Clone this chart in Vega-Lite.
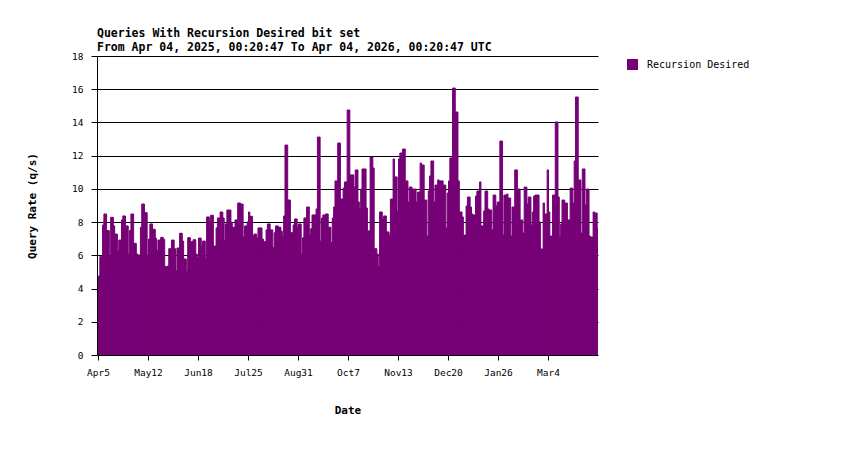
{
  "$schema": "https://vega.github.io/schema/vega-lite/v6.json",
  "width": 501,
  "height": 299,
  "autosize": {"type": "none"},
  "padding": {"left": 97, "top": 56, "right": 252, "bottom": 95},
  "background": "white",
  "config": {"view": {"stroke": null}, "font": "DejaVu Sans Mono"},
  "title": {
    "text": "Queries With Recursion Desired bit set",
    "subtitle": "From Apr 04, 2025, 00:20:47 To Apr 04, 2026, 00:20:47 UTC",
    "anchor": "start",
    "frame": "group",
    "font": "DejaVu Sans Mono",
    "fontSize": 11.5,
    "fontWeight": "bold",
    "color": "#000000",
    "subtitleFont": "DejaVu Sans Mono",
    "subtitleFontSize": 11.5,
    "subtitleFontWeight": "bold",
    "subtitleColor": "#000000",
    "offset": -2,
    "subtitlePadding": 2
  },
  "data": {"name": "rd"},
  "datasets": {
    "rd": [
      {"day":"2025-04-05","rate":4.76},{"day":"2025-04-06","rate":5.92},{"day":"2025-04-07","rate":5.92},{"day":"2025-04-08","rate":7.83},{"day":"2025-04-09","rate":8.49},{"day":"2025-04-10","rate":8.49},{"day":"2025-04-11","rate":7.49},{"day":"2025-04-12","rate":7.49},{"day":"2025-04-13","rate":5.92},{"day":"2025-04-14","rate":8.29},{"day":"2025-04-15","rate":8.29},{"day":"2025-04-16","rate":7.77},{"day":"2025-04-17","rate":7.28},{"day":"2025-04-18","rate":7.28},{"day":"2025-04-19","rate":6.26},{"day":"2025-04-20","rate":6.92},{"day":"2025-04-21","rate":6.92},{"day":"2025-04-22","rate":8.13},{"day":"2025-04-23","rate":8.37},{"day":"2025-04-24","rate":8.37},{"day":"2025-04-25","rate":7.77},{"day":"2025-04-26","rate":7.77},{"day":"2025-04-27","rate":6.06},{"day":"2025-04-28","rate":7.49},{"day":"2025-04-29","rate":8.49},{"day":"2025-04-30","rate":8.49},
      {"day":"2025-05-01","rate":6.72},{"day":"2025-05-02","rate":6.72},{"day":"2025-05-03","rate":6.08},{"day":"2025-05-04","rate":6.02},{"day":"2025-05-05","rate":6.02},{"day":"2025-05-06","rate":7.69},{"day":"2025-05-07","rate":9.09},{"day":"2025-05-08","rate":9.09},{"day":"2025-05-09","rate":8.57},{"day":"2025-05-10","rate":8.57},{"day":"2025-05-11","rate":6.02},{"day":"2025-05-12","rate":6.98},{"day":"2025-05-13","rate":7.89},{"day":"2025-05-14","rate":7.89},{"day":"2025-05-15","rate":7.57},{"day":"2025-05-16","rate":7.57},{"day":"2025-05-17","rate":7.02},{"day":"2025-05-18","rate":6.3},{"day":"2025-05-19","rate":6.92},{"day":"2025-05-20","rate":6.92},{"day":"2025-05-21","rate":7.08},{"day":"2025-05-22","rate":7.08},{"day":"2025-05-23","rate":6.96},{"day":"2025-05-24","rate":5.32},{"day":"2025-05-25","rate":5.32},{"day":"2025-05-26","rate":5.36},{"day":"2025-05-27","rate":6.4},{"day":"2025-05-28","rate":6.4},{"day":"2025-05-29","rate":6.92},{"day":"2025-05-30","rate":6.92},{"day":"2025-05-31","rate":6.4},
      {"day":"2025-06-01","rate":5.06},{"day":"2025-06-02","rate":6.44},{"day":"2025-06-03","rate":6.44},{"day":"2025-06-04","rate":7.33},{"day":"2025-06-05","rate":7.33},{"day":"2025-06-06","rate":6.86},{"day":"2025-06-07","rate":5.78},{"day":"2025-06-08","rate":5.78},{"day":"2025-06-09","rate":5.02},{"day":"2025-06-10","rate":7.06},{"day":"2025-06-11","rate":7.06},{"day":"2025-06-12","rate":6.82},{"day":"2025-06-13","rate":6.82},{"day":"2025-06-14","rate":6.94},{"day":"2025-06-15","rate":6.94},{"day":"2025-06-16","rate":6.08},{"day":"2025-06-17","rate":5.88},{"day":"2025-06-18","rate":7.04},{"day":"2025-06-19","rate":7.04},{"day":"2025-06-20","rate":6.56},{"day":"2025-06-21","rate":6.86},{"day":"2025-06-22","rate":6.86},{"day":"2025-06-23","rate":5.84},{"day":"2025-06-24","rate":8.31},{"day":"2025-06-25","rate":8.31},{"day":"2025-06-26","rate":8.05},{"day":"2025-06-27","rate":8.41},{"day":"2025-06-28","rate":8.41},{"day":"2025-06-29","rate":6.56},{"day":"2025-06-30","rate":6.56},
      {"day":"2025-07-01","rate":7.65},{"day":"2025-07-02","rate":8.25},{"day":"2025-07-03","rate":8.25},{"day":"2025-07-04","rate":8.61},{"day":"2025-07-05","rate":8.61},{"day":"2025-07-06","rate":8.25},{"day":"2025-07-07","rate":6.92},{"day":"2025-07-08","rate":7.89},{"day":"2025-07-09","rate":8.73},{"day":"2025-07-10","rate":8.73},{"day":"2025-07-11","rate":8.73},{"day":"2025-07-12","rate":7.99},{"day":"2025-07-13","rate":7.69},{"day":"2025-07-14","rate":7.69},{"day":"2025-07-15","rate":8.13},{"day":"2025-07-16","rate":8.13},{"day":"2025-07-17","rate":9.15},{"day":"2025-07-18","rate":9.15},{"day":"2025-07-19","rate":9.09},{"day":"2025-07-20","rate":9.09},{"day":"2025-07-21","rate":7.1},{"day":"2025-07-22","rate":7.77},{"day":"2025-07-23","rate":7.77},{"day":"2025-07-24","rate":8.01},{"day":"2025-07-25","rate":8.61},{"day":"2025-07-26","rate":8.35},{"day":"2025-07-27","rate":8.35},{"day":"2025-07-28","rate":7.16},{"day":"2025-07-29","rate":7.28},{"day":"2025-07-30","rate":7.28},{"day":"2025-07-31","rate":7.04},
      {"day":"2025-08-01","rate":7.65},{"day":"2025-08-02","rate":7.65},{"day":"2025-08-03","rate":7.65},{"day":"2025-08-04","rate":6.98},{"day":"2025-08-05","rate":6.82},{"day":"2025-08-06","rate":6.82},{"day":"2025-08-07","rate":7.53},{"day":"2025-08-08","rate":7.89},{"day":"2025-08-09","rate":7.89},{"day":"2025-08-10","rate":7.53},{"day":"2025-08-11","rate":7.53},{"day":"2025-08-12","rate":6.46},{"day":"2025-08-13","rate":7.36},{"day":"2025-08-14","rate":7.77},{"day":"2025-08-15","rate":7.77},{"day":"2025-08-16","rate":7.69},{"day":"2025-08-17","rate":7.69},{"day":"2025-08-18","rate":7.45},{"day":"2025-08-19","rate":7.12},{"day":"2025-08-20","rate":8.37},{"day":"2025-08-21","rate":12.64},{"day":"2025-08-22","rate":12.64},{"day":"2025-08-23","rate":9.33},{"day":"2025-08-24","rate":9.33},{"day":"2025-08-25","rate":7.36},{"day":"2025-08-26","rate":7.36},{"day":"2025-08-27","rate":7.83},{"day":"2025-08-28","rate":8.19},{"day":"2025-08-29","rate":8.19},{"day":"2025-08-30","rate":7.69},{"day":"2025-08-31","rate":7.89},
      {"day":"2025-09-01","rate":7.89},{"day":"2025-09-02","rate":6.08},{"day":"2025-09-03","rate":7.06},{"day":"2025-09-04","rate":8.25},{"day":"2025-09-05","rate":8.25},{"day":"2025-09-06","rate":8.91},{"day":"2025-09-07","rate":8.91},{"day":"2025-09-08","rate":7.22},{"day":"2025-09-09","rate":7.6},{"day":"2025-09-10","rate":8.43},{"day":"2025-09-11","rate":8.43},{"day":"2025-09-12","rate":8.43},{"day":"2025-09-13","rate":8.79},{"day":"2025-09-14","rate":13.12},{"day":"2025-09-15","rate":13.12},{"day":"2025-09-16","rate":6.86},{"day":"2025-09-17","rate":8.25},{"day":"2025-09-18","rate":8.43},{"day":"2025-09-19","rate":8.43},{"day":"2025-09-20","rate":8.49},{"day":"2025-09-21","rate":8.49},{"day":"2025-09-22","rate":7.69},{"day":"2025-09-23","rate":7.69},{"day":"2025-09-24","rate":6.76},{"day":"2025-09-25","rate":8.25},{"day":"2025-09-26","rate":8.91},{"day":"2025-09-27","rate":10.48},{"day":"2025-09-28","rate":10.48},{"day":"2025-09-29","rate":12.76},{"day":"2025-09-30","rate":12.76},
      {"day":"2025-10-01","rate":9.39},{"day":"2025-10-02","rate":9.39},{"day":"2025-10-03","rate":10.05},{"day":"2025-10-04","rate":10.42},{"day":"2025-10-05","rate":10.42},{"day":"2025-10-06","rate":14.75},{"day":"2025-10-07","rate":14.75},{"day":"2025-10-08","rate":10.84},{"day":"2025-10-09","rate":10.84},{"day":"2025-10-10","rate":10.84},{"day":"2025-10-11","rate":10.11},{"day":"2025-10-12","rate":11.14},{"day":"2025-10-13","rate":11.14},{"day":"2025-10-14","rate":9.21},{"day":"2025-10-15","rate":8.79},{"day":"2025-10-16","rate":9.99},{"day":"2025-10-17","rate":11.2},{"day":"2025-10-18","rate":11.2},{"day":"2025-10-19","rate":11.2},{"day":"2025-10-20","rate":8.85},{"day":"2025-10-21","rate":7.47},{"day":"2025-10-22","rate":7.47},{"day":"2025-10-23","rate":11.92},{"day":"2025-10-24","rate":11.92},{"day":"2025-10-25","rate":11.26},{"day":"2025-10-26","rate":6.4},{"day":"2025-10-27","rate":6.4},{"day":"2025-10-28","rate":6.08},{"day":"2025-10-29","rate":5.32},{"day":"2025-10-30","rate":8.61},{"day":"2025-10-31","rate":8.61},
      {"day":"2025-11-01","rate":8.19},{"day":"2025-11-02","rate":8.37},{"day":"2025-11-03","rate":8.37},{"day":"2025-11-04","rate":7.41},{"day":"2025-11-05","rate":7.41},{"day":"2025-11-06","rate":7.22},{"day":"2025-11-07","rate":9.39},{"day":"2025-11-08","rate":9.39},{"day":"2025-11-09","rate":11.8},{"day":"2025-11-10","rate":10.72},{"day":"2025-11-11","rate":10.72},{"day":"2025-11-12","rate":8.67},{"day":"2025-11-13","rate":11.8},{"day":"2025-11-14","rate":12.16},{"day":"2025-11-15","rate":12.16},{"day":"2025-11-16","rate":12.4},{"day":"2025-11-17","rate":12.4},{"day":"2025-11-18","rate":10.48},{"day":"2025-11-19","rate":10.48},{"day":"2025-11-20","rate":9.21},{"day":"2025-11-21","rate":10.11},{"day":"2025-11-22","rate":10.11},{"day":"2025-11-23","rate":9.99},{"day":"2025-11-24","rate":9.99},{"day":"2025-11-25","rate":9.99},{"day":"2025-11-26","rate":9.21},{"day":"2025-11-27","rate":9.81},{"day":"2025-11-28","rate":9.81},{"day":"2025-11-29","rate":11.56},{"day":"2025-11-30","rate":11.44},
      {"day":"2025-12-01","rate":11.44},{"day":"2025-12-02","rate":9.33},{"day":"2025-12-03","rate":9.33},{"day":"2025-12-04","rate":7.16},{"day":"2025-12-05","rate":9.87},{"day":"2025-12-06","rate":10.78},{"day":"2025-12-07","rate":11.68},{"day":"2025-12-08","rate":11.68},{"day":"2025-12-09","rate":9.21},{"day":"2025-12-10","rate":10.23},{"day":"2025-12-11","rate":10.23},{"day":"2025-12-12","rate":10.54},{"day":"2025-12-13","rate":10.48},{"day":"2025-12-14","rate":10.48},{"day":"2025-12-15","rate":10.48},{"day":"2025-12-16","rate":10.23},{"day":"2025-12-17","rate":10.23},{"day":"2025-12-18","rate":7.65},{"day":"2025-12-19","rate":9.75},{"day":"2025-12-20","rate":10.48},{"day":"2025-12-21","rate":11.86},{"day":"2025-12-22","rate":11.86},{"day":"2025-12-23","rate":16.07},{"day":"2025-12-24","rate":16.07},{"day":"2025-12-25","rate":14.63},{"day":"2025-12-26","rate":14.63},{"day":"2025-12-27","rate":10.48},{"day":"2025-12-28","rate":8.61},{"day":"2025-12-29","rate":8.61},{"day":"2025-12-30","rate":8.31},{"day":"2025-12-31","rate":7.22},
      {"day":"2026-01-01","rate":7.22},{"day":"2026-01-02","rate":8.97},{"day":"2026-01-03","rate":9.51},{"day":"2026-01-04","rate":9.51},{"day":"2026-01-05","rate":8.91},{"day":"2026-01-06","rate":8.49},{"day":"2026-01-07","rate":8.43},{"day":"2026-01-08","rate":8.43},{"day":"2026-01-09","rate":9.57},{"day":"2026-01-10","rate":9.87},{"day":"2026-01-11","rate":9.87},{"day":"2026-01-12","rate":10.42},{"day":"2026-01-13","rate":7.77},{"day":"2026-01-14","rate":7.77},{"day":"2026-01-15","rate":8.67},{"day":"2026-01-16","rate":9.87},{"day":"2026-01-17","rate":9.87},{"day":"2026-01-18","rate":8.79},{"day":"2026-01-19","rate":8.73},{"day":"2026-01-20","rate":8.73},{"day":"2026-01-21","rate":7.53},{"day":"2026-01-22","rate":9.63},{"day":"2026-01-23","rate":9.63},{"day":"2026-01-24","rate":8.97},{"day":"2026-01-25","rate":9.21},{"day":"2026-01-26","rate":9.21},{"day":"2026-01-27","rate":12.88},{"day":"2026-01-28","rate":12.88},{"day":"2026-01-29","rate":7.22},{"day":"2026-01-30","rate":9.63},{"day":"2026-01-31","rate":9.63},
      {"day":"2026-02-01","rate":9.69},{"day":"2026-02-02","rate":9.45},{"day":"2026-02-03","rate":9.45},{"day":"2026-02-04","rate":7.16},{"day":"2026-02-05","rate":8.91},{"day":"2026-02-06","rate":8.91},{"day":"2026-02-07","rate":11.14},{"day":"2026-02-08","rate":11.14},{"day":"2026-02-09","rate":9.99},{"day":"2026-02-10","rate":9.99},{"day":"2026-02-11","rate":8.13},{"day":"2026-02-12","rate":8.13},{"day":"2026-02-13","rate":7.34},{"day":"2026-02-14","rate":10.11},{"day":"2026-02-15","rate":10.11},{"day":"2026-02-16","rate":9.09},{"day":"2026-02-17","rate":9.51},{"day":"2026-02-18","rate":9.51},{"day":"2026-02-19","rate":7.83},{"day":"2026-02-20","rate":8.61},{"day":"2026-02-21","rate":9.57},{"day":"2026-02-22","rate":9.63},{"day":"2026-02-23","rate":9.63},{"day":"2026-02-24","rate":9.63},{"day":"2026-02-25","rate":8.01},{"day":"2026-02-26","rate":6.38},{"day":"2026-02-27","rate":6.38},{"day":"2026-02-28","rate":9.15},
      {"day":"2026-03-01","rate":8.49},{"day":"2026-03-02","rate":8.49},{"day":"2026-03-03","rate":11.14},{"day":"2026-03-04","rate":8.61},{"day":"2026-03-05","rate":7.16},{"day":"2026-03-06","rate":7.16},{"day":"2026-03-07","rate":9.63},{"day":"2026-03-08","rate":9.63},{"day":"2026-03-09","rate":14.03},{"day":"2026-03-10","rate":14.03},{"day":"2026-03-11","rate":9.51},{"day":"2026-03-12","rate":7.1},{"day":"2026-03-13","rate":7.89},{"day":"2026-03-14","rate":9.33},{"day":"2026-03-15","rate":9.33},{"day":"2026-03-16","rate":9.15},{"day":"2026-03-17","rate":9.15},{"day":"2026-03-18","rate":8.13},{"day":"2026-03-19","rate":8.13},{"day":"2026-03-20","rate":10.05},{"day":"2026-03-21","rate":10.05},{"day":"2026-03-22","rate":9.15},{"day":"2026-03-23","rate":11.68},{"day":"2026-03-24","rate":15.53},{"day":"2026-03-25","rate":15.53},{"day":"2026-03-26","rate":10.54},{"day":"2026-03-27","rate":10.54},{"day":"2026-03-28","rate":7.34},{"day":"2026-03-29","rate":11.2},{"day":"2026-03-30","rate":11.2},{"day":"2026-03-31","rate":9.03},
      {"day":"2026-04-01","rate":9.99},{"day":"2026-04-02","rate":9.99},{"day":"2026-04-03","rate":7.16},{"day":"2026-04-04","rate":7.1},{"day":"2026-04-05","rate":7.1},{"day":"2026-04-06","rate":8.61},{"day":"2026-04-07","rate":8.55},{"day":"2026-04-08","rate":8.55},{"day":"2026-04-09","rate":7.65}
    ]
  },
  "mark": {
    "type": "bar",
    "clip": true,
    "binSpacing": 0,
    "stroke": "#760076",
    "strokeWidth": 1,
    "strokeOpacity": 1,
    "fillOpacity": 1
  },
  "encoding": {
    "x": {
      "field": "day",
      "type": "temporal",
      "timeUnit": "utcyearmonthdate",
      "title": "Date",
      "scale": {
        "type": "utc",
        "nice": false,
        "domain": [
          {"year": 2025, "month": 4, "date": 4, "hours": 6, "minutes": 14, "utc": true},
          {"year": 2026, "month": 4, "date": 10, "utc": true}
        ]
      },
      "axis": {
        "values": [
          {"year": 2025, "month": 4, "date": 5, "utc": true},
          {"year": 2025, "month": 5, "date": 12, "utc": true},
          {"year": 2025, "month": 6, "date": 18, "utc": true},
          {"year": 2025, "month": 7, "date": 25, "utc": true},
          {"year": 2025, "month": 8, "date": 31, "utc": true},
          {"year": 2025, "month": 10, "date": 7, "utc": true},
          {"year": 2025, "month": 11, "date": 13, "utc": true},
          {"year": 2025, "month": 12, "date": 20, "utc": true},
          {"year": 2026, "month": 1, "date": 26, "utc": true},
          {"year": 2026, "month": 3, "date": 4, "utc": true}
        ],
        "format": "%b%-d",
        "grid": false,
        "domain": false,
        "zindex": 0,
        "tickColor": "#000000",
        "tickSize": 5,
        "labelFont": "DejaVu Sans Mono",
        "labelFontSize": 9.5,
        "labelColor": "#000000",
        "labelPadding": 7,
        "labelOverlap": false,
        "labelFlush": false,
        "titleFont": "DejaVu Sans Mono",
        "titleFontSize": 11,
        "titleFontWeight": "bold",
        "titleColor": "#000000",
        "titleY": 55,
        "titleBaseline": "middle"
      }
    },
    "y": {
      "field": "rate",
      "type": "quantitative",
      "title": "Query Rate (q/s)",
      "scale": {"domain": [0, 18], "nice": false},
      "axis": {
        "values": [0, 2, 4, 6, 8, 10, 12, 14, 16, 18],
        "grid": true,
        "zindex": 0,
        "gridColor": "#000000",
        "gridOpacity": 1,
        "gridWidth": 1,
        "domainColor": "#000000",
        "tickColor": "#000000",
        "tickSize": 6,
        "labelFont": "DejaVu Sans Mono",
        "labelFontSize": 9.5,
        "labelColor": "#000000",
        "labelPadding": 8,
        "titleFont": "DejaVu Sans Mono",
        "titleFontSize": 11,
        "titleFontWeight": "bold",
        "titleColor": "#000000",
        "titleAngle": -90,
        "titleAlign": "center",
        "titleBaseline": "middle",
        "titleX": -65,
        "titleY": 149.5
      }
    },
    "color": {
      "datum": "Recursion Desired",
      "type": "nominal",
      "scale": {"range": ["#760076"]},
      "legend": {
        "orient": "none",
        "legendX": 530,
        "legendY": 3,
        "title": null,
        "padding": 0,
        "symbolType": "square",
        "symbolSize": 121,
        "symbolStrokeWidth": 0,
        "symbolOpacity": 1,
        "labelFont": "DejaVu Sans Mono",
        "labelFontSize": 10,
        "labelColor": "#000000",
        "labelOffset": 9
      }
    }
  }
}
